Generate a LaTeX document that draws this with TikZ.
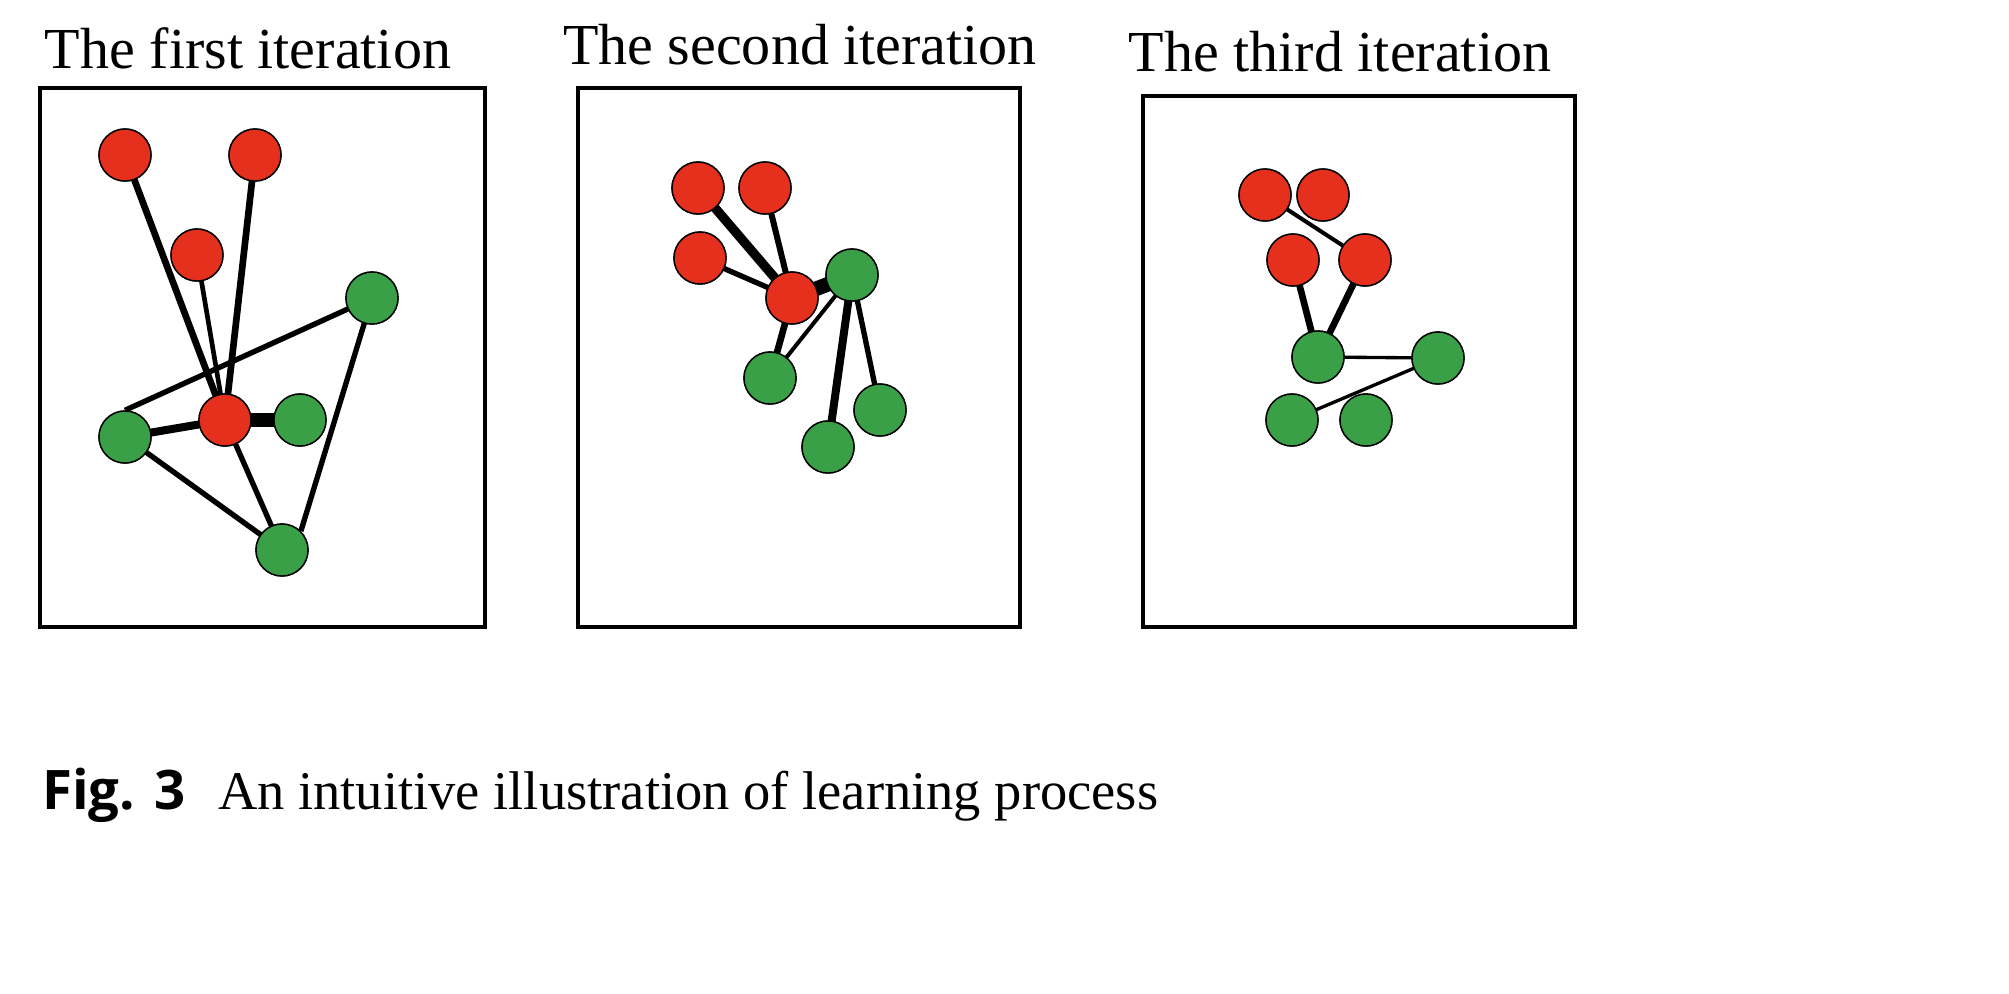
\documentclass[tikz,border=0pt]{standalone}
\usepackage{fontspec}
\setmainfont{Liberation Serif}
\newfontfamily\figsans{Open Sans}
\begin{document}
\begin{tikzpicture}[x=0.01cm,y=-0.01cm,
  r/.style={circle,draw=black,line width=0.4pt,fill={rgb,255:red,228;green,48;blue,28},minimum size=0.52cm,inner sep=0pt},
  g/.style={circle,draw=black,line width=0.4pt,fill={rgb,255:red,58;green,160;blue,72},minimum size=0.52cm,inner sep=0pt},
  box/.style={draw=black,line width=1.1pt},
  ttl/.style={font=\fontsize{16.5}{18}\selectfont},
  e/.style={line width=#1*0.38pt}]
\useasboundingbox (0,0) rectangle (2009,993);
\fill[white] (0,0) rectangle (2009,993);
% boxes
\draw[box] (40,88) rectangle (485,627);
\draw[box] (578,88) rectangle (1020,627);
\draw[box] (1143,96) rectangle (1575,627);
\node[ttl] (t1) at (248,48) {The first iteration};
\node[ttl] (t2) at (800,45) {The second iteration};
\node[ttl] (t3) at (1340,52) {The third iteration};
\node[anchor=west,font=\fontsize{15.5}{18}\selectfont] (cap) at (30,795) {{\figsans\bfseries Fig. 3}\hspace{0.6em}An intuitive illustration of learning process};
% panel 1
\node[r] (a1) at (125,155) {}; \node[r] (a2) at (255,155) {}; \node[r] (a3) at (197,255) {};
\node[r] (ac) at (225,420) {}; \node[g] (b1) at (372,298) {}; \node[g] (b2) at (125,437) {};
\node[g] (b3) at (300,420) {}; \node[g] (b4) at (282,550) {};
\draw[e=5] (a1.center)--(ac.center); \draw[e=5] (a2.center)--(ac.center); \draw[e=3.5] (a3.center)--(ac.center);
\draw[e=10] (ac.center)--(b3.center); \draw[e=6] (b2.center)--(ac.center);
\draw[e=4] (b2.north)--(b1.center); \draw[e=4] (b1.center)--(b4.north east);
\draw[e=4] (b2.center)--(b4.center); \draw[e=4] (ac.center)--(b4.center);
\foreach \n in {a1,a2,a3,ac} \node[r] at (\n) {};
\foreach \n in {b1,b2,b3,b4} \node[g] at (\n) {};
% panel 2
\node[r] (c1) at (698,188) {}; \node[r] (c2) at (765,188) {}; \node[r] (c3) at (700,258) {};
\node[r] (cc) at (792,298) {}; \node[g] (d1) at (852,275) {}; \node[g] (d2) at (770,378) {};
\node[g] (d3) at (880,410) {}; \node[g] (d4) at (828,447) {};
\draw[e=7] (c1.center)--(cc.center); \draw[e=4.5] (c2.center)--(cc.center); \draw[e=4] (c3.center)--(cc.center);
\draw[e=11] (cc.center)--(d1.center); \draw[e=5] (cc.center)--(d2.center); \draw[e=3] (d1.center)--(d2.center);
\draw[e=4] (d1.center)--(d3.center); \draw[e=6] (d1.center)--(d4.center);
\foreach \n in {c1,c2,c3,cc} \node[r] at (\n) {};
\foreach \n in {d1,d2,d3,d4} \node[g] at (\n) {};
% panel 3
\node[r] (f1) at (1265,195) {}; \node[r] (f2) at (1323,195) {}; \node[r] (f3) at (1293,260) {};
\node[r] (f4) at (1365,260) {}; \node[g] (h1) at (1318,357) {}; \node[g] (h2) at (1438,358) {};
\node[g] (h3) at (1292,420) {}; \node[g] (h4) at (1366,420) {};
\draw[e=3] (f1.center)--(f4.center); \draw[e=5] (f3.center)--(h1.center); \draw[e=5] (f4.center)--(h1.center);
\draw[e=2.5] (h1.center)--(h2.center); \draw[e=2.5] (h2.center)--(h3.center);
\foreach \n in {f1,f2,f3,f4} \node[r] at (\n) {};
\foreach \n in {h1,h2,h3,h4} \node[g] at (\n) {};
\end{tikzpicture}
\end{document}
